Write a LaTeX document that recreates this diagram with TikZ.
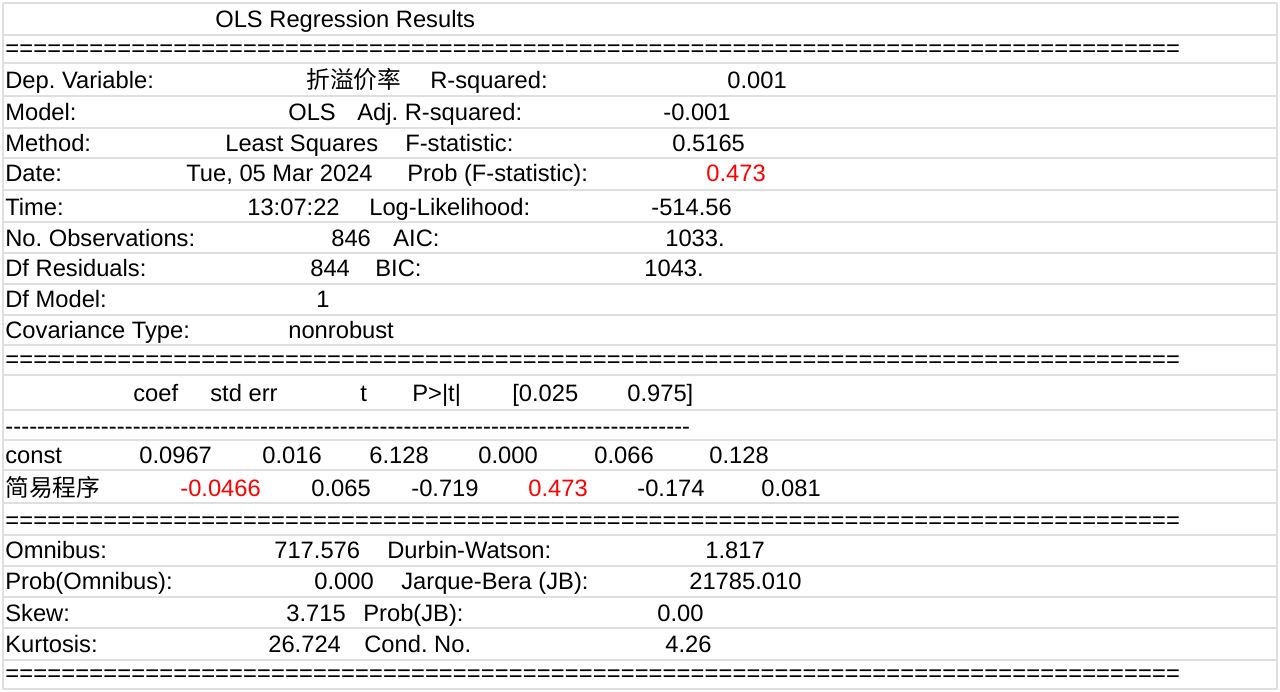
\documentclass[tikz,border=0pt]{standalone}
\usepackage{fontspec}
\setmainfont{Liberation Sans}
\newfontfamily\cjk{Noto Sans CJK SC}
\frenchspacing
\begin{document}
\begin{tikzpicture}[x=0.02cm,y=-0.02cm]

  \tikzset{cell/.style = {anchor=base west, inner sep=0pt, yshift=-0.17cm, font=\fontsize{13.5}{15}\selectfont},
           hot/.style = {cell, text=red},
           rule/.style = {gray!25, line width=1.5pt}}

  \useasboundingbox[fill=white] (0,0) rectangle (1280,692);

  % row lines and frame
  \foreach \y in {3,35,63,96,128,158,190,222,253,284,315,345,375,410,440,470,503,535,566,597,628,660,689}
    \draw[rule] (3,\y) -- (1277,\y);
  \draw[rule] (3,3) -- (3,689);
  \draw[rule] (1277,3) -- (1277,689);

  \node[cell] (title) at (215,19) {OLS Regression Results};

  % separator lines
  \foreach \y/\n in {48/a,359/b,520/c,673/d}
    \node[cell] (eq\n) at (5,\y) {\makebox[23.5cm]{\xleaders\hbox{=}\hfill}};
  \node[cell] (dash) at (5,426) {\makebox[13.7cm]{\xleaders\hbox{-}\hfill}};

  % model block
  \node[cell] (dep) at (5,80) {Dep. Variable:};
  \node[cell] (depv) at (306,80) {\cjk 折溢价率};
  \node[cell] (rsq) at (430,80) {R-squared:};
  \node[cell] (rsqv) at (727,80) {0.001};

  \node[cell] (mod) at (5,112) {Model:};
  \node[cell] (modv) at (288,112) {OLS};
  \node[cell] (arsq) at (357,112) {Adj. R-squared:};
  \node[cell] (arsqv) at (663,112) {-0.001};

  \node[cell] (meth) at (5,143) {Method:};
  \node[cell] (methv) at (225,143) {Least Squares};
  \node[cell] (fst) at (405,143) {F-statistic:};
  \node[cell] (fstv) at (672,143) {0.5165};

  \node[cell] (date) at (5,173) {Date:};
  \node[cell] (datev) at (186,173) {Tue, 05 Mar 2024};
  \node[cell] (pf) at (407,173) {Prob (F-statistic):};
  \node[hot] (pfv) at (706,173) {0.473};

  \node[cell] (time) at (5,207) {Time:};
  \node[cell] (timev) at (247,207) {13:07:22};
  \node[cell] (ll) at (369,207) {Log-Likelihood:};
  \node[cell] (llv) at (651,207) {-514.56};

  \node[cell] (nobs) at (5,238) {No. Observations:};
  \node[cell] (nobsv) at (331,238) {846};
  \node[cell] (aic) at (393,238) {AIC:};
  \node[cell] (aicv) at (665,238) {1033.};

  \node[cell] (dfr) at (5,268) {Df Residuals:};
  \node[cell] (dfrv) at (310,268) {844};
  \node[cell] (bic) at (375,268) {BIC:};
  \node[cell] (bicv) at (644,268) {1043.};

  \node[cell] (dfm) at (5,299) {Df Model:};
  \node[cell] (dfmv) at (316,299) {1};

  \node[cell] (cov) at (5,330) {Covariance Type:};
  \node[cell] (covv) at (288,330) {nonrobust};

  % coefficient block
  \node[cell] (hcoef) at (133,393) {coef};
  \node[cell] (hse) at (210,393) {std err};
  \node[cell] (ht) at (360,393) {t};
  \node[cell] (hp) at (412,393) {P>|t|};
  \node[cell] (hlo) at (512,393) {[0.025};
  \node[cell] (hhi) at (627,393) {0.975]};

  \node[cell] (cst) at (5,455) {const};
  \node[cell] (cst1) at (139,455) {0.0967};
  \node[cell] (cst2) at (262,455) {0.016};
  \node[cell] (cst3) at (369,455) {6.128};
  \node[cell] (cst4) at (478,455) {0.000};
  \node[cell] (cst5) at (594,455) {0.066};
  \node[cell] (cst6) at (709,455) {0.128};

  \node[cell] (jy) at (5,488) {\cjk 简易程序};
  \node[hot] (jy1) at (180,488) {-0.0466};
  \node[cell] (jy2) at (311,488) {0.065};
  \node[cell] (jy3) at (411,488) {-0.719};
  \node[hot] (jy4) at (528,488) {0.473};
  \node[cell] (jy5) at (637,488) {-0.174};
  \node[cell] (jy6) at (761,488) {0.081};

  % residual block
  \node[cell] (omn) at (5,550) {Omnibus:};
  \node[cell] (omnv) at (274,550) {717.576};
  \node[cell] (dw) at (387,550) {Durbin-Watson:};
  \node[cell] (dwv) at (705,550) {1.817};

  \node[cell] (pomn) at (5,581) {Prob(Omnibus):};
  \node[cell] (pomnv) at (314,581) {0.000};
  \node[cell] (jb) at (401,581) {Jarque-Bera (JB):};
  \node[cell] (jbv) at (689,581) {21785.010};

  \node[cell] (skew) at (5,613) {Skew:};
  \node[cell] (skewv) at (286,613) {3.715};
  \node[cell] (pjb) at (363,613) {Prob(JB):};
  \node[cell] (pjbv) at (657,613) {0.00};

  \node[cell] (kurt) at (5,644) {Kurtosis:};
  \node[cell] (kurtv) at (268,644) {26.724};
  \node[cell] (cond) at (364,644) {Cond. No.};
  \node[cell] (condv) at (665,644) {4.26};

\end{tikzpicture}
\end{document}
